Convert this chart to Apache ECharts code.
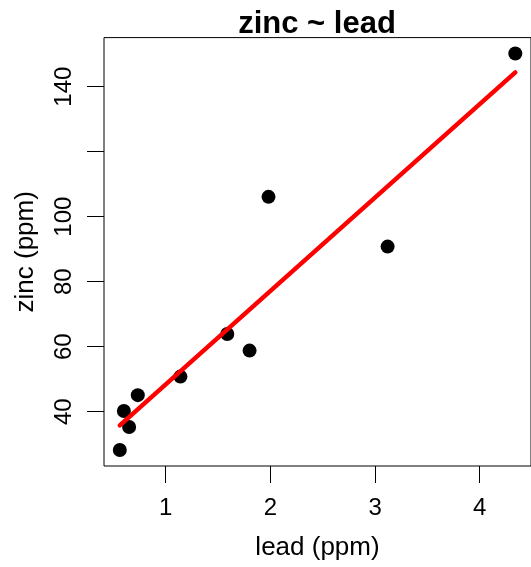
<!DOCTYPE html>
<html><head><meta charset="utf-8">
<script src="https://cdn.jsdelivr.net/npm/echarts@6/dist/echarts.min.js"></script>
<style>html,body{margin:0;padding:0;background:#fff}#c{width:531px;height:567px}</style>
</head><body><div id="c"></div>
<script>
const leadPpm = [0.561, 0.650, 0.600, 0.733, 1.140, 1.588, 1.801, 1.982, 3.120, 4.340];
const zincPpm = [28.2, 35.3, 40.2, 45.1, 50.8, 63.9, 58.8, 106.1, 90.8, 150.2];
const fitLead = [0.561, 4.340];
const fitZinc = [35.8, 144.4];
const xTicks = [1, 2, 3, 4];
const yTicks = [40, 60, 80, 100, 120, 140];
const yTickLabels = [40, 60, 80, 100, 140];

const FONT = 'Liberation Sans, Arial, Helvetica, sans-serif';
const chart = echarts.init(document.getElementById('c'), null, {renderer: 'canvas'});
chart.setOption({
  animation: false,
  backgroundColor: '#fff',
  title: {
    text: 'zinc ~ lead',
    left: 312, top: 4, textAlign: 'center',
    textStyle: {fontFamily: FONT, fontWeight: 'bold', fontSize: 31, color: '#000'}
  },
  grid: {left: 104, top: 37.6, width: 428, height: 428.4, show: true, borderColor: '#000', borderWidth: 1, backgroundColor: 'transparent', containLabel: false},
  xAxis: {
    type: 'value', min: 0.41, max: 4.49,
    name: 'lead (ppm)', nameLocation: 'middle', nameGap: 69,
    nameTextStyle: {fontFamily: FONT, fontSize: 26, color: '#000'},
    axisLine: {show: false},
    splitLine: {show: false},
    axisTick: {show: true, inside: false, length: 17, customValues: xTicks, lineStyle: {color: '#000', width: 1}},
    axisLabel: {customValues: xTicks, margin: 30, fontFamily: FONT, fontSize: 24, color: '#000'}
  },
  yAxis: {
    type: 'value', min: 23.3, max: 155.1,
    name: 'zinc (ppm)', nameLocation: 'middle', nameGap: 65, nameRotate: 90,
    nameTextStyle: {fontFamily: FONT, fontSize: 26, color: '#000'},
    axisLine: {show: false},
    splitLine: {show: false},
    axisTick: {show: true, inside: false, length: 17, customValues: yTicks, lineStyle: {color: '#000', width: 1}},
    axisLabel: {customValues: yTickLabels, rotate: 90, margin: 28, fontFamily: FONT, fontSize: 24, color: '#000'}
  },
  series: [
    {
      type: 'scatter', symbol: 'circle', symbolSize: 14,
      itemStyle: {color: '#000', opacity: 1},
      data: leadPpm.map((x, i) => [x, zincPpm[i]]),
      z: 2
    },
    {
      type: 'line', showSymbol: false, symbol: 'none',
      lineStyle: {color: '#FF0000', width: 4.5, cap: 'round'},
      data: fitLead.map((x, i) => [x, fitZinc[i]]),
      z: 3
    }
  ]
});
</script></body></html>
